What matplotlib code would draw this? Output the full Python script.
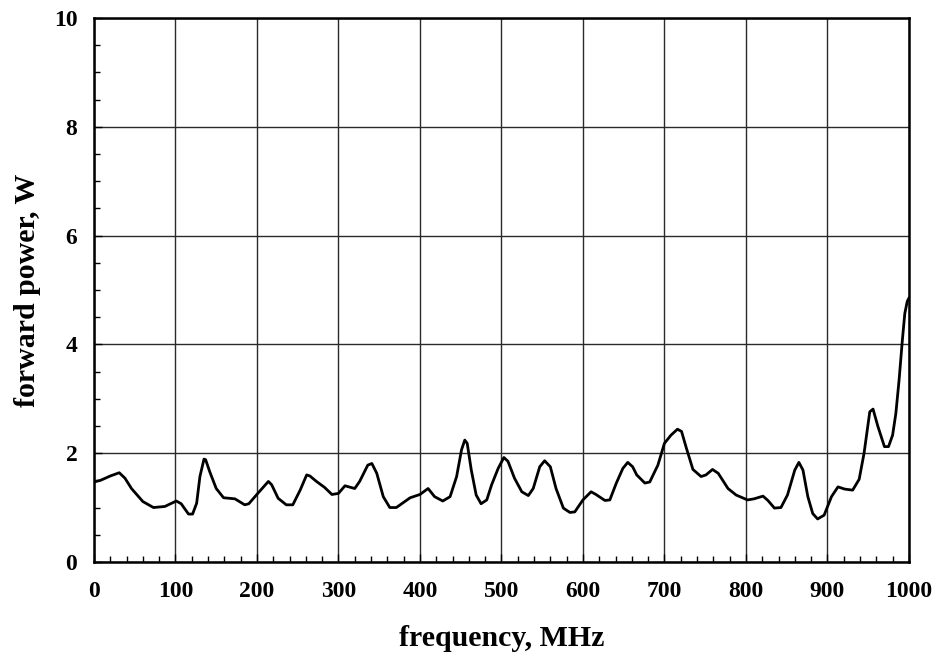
import numpy as np
import matplotlib as mpl
mpl.use("Agg")
from matplotlib import pyplot as plt
from matplotlib.ticker import MultipleLocator

mpl.rcParams.update({
    "font.family": "serif",
    "font.serif": ["Liberation Serif", "DejaVu Serif"],
    "font.weight": "bold",
})

# frequency (MHz) and forward power (W)
freq = [0, 8, 20, 31, 38, 46, 60, 73, 87, 101, 107, 116, 121, 126, 130, 135, 137,
        142, 150, 159, 173, 185, 190, 201, 214, 218, 226, 236, 244, 253, 261, 265,
        273, 283, 292, 300, 308, 320, 326, 336, 341, 347, 355, 363, 371, 388, 400,
        410, 418, 428, 437, 445, 451, 455, 458, 463, 469, 475, 482, 488, 496, 503,
        508, 516, 525, 533, 539, 547, 553, 560, 567, 576, 584, 590, 600, 610, 616,
        627, 633, 641, 649, 655, 661, 666, 676, 682, 692, 700, 708, 716, 721, 727,
        735, 745, 751, 759, 766, 778, 788, 802, 810, 821, 827, 835, 843, 851, 860,
        865, 870, 876, 882, 888, 896, 905, 913, 921, 931, 939, 945, 952, 956, 962,
        970, 975, 980, 984, 988, 992, 995, 998, 1000]
power = [1.47, 1.50, 1.58, 1.64, 1.54, 1.35, 1.11, 1.00, 1.02, 1.12, 1.07, 0.88, 0.88,
         1.08, 1.57, 1.89, 1.88, 1.66, 1.35, 1.18, 1.16, 1.05, 1.07, 1.26, 1.48, 1.42,
         1.17, 1.05, 1.05, 1.32, 1.60, 1.58, 1.48, 1.37, 1.24, 1.26, 1.40, 1.35, 1.48,
         1.78, 1.81, 1.63, 1.20, 1.00, 1.00, 1.18, 1.24, 1.35, 1.20, 1.12, 1.20, 1.57,
         2.06, 2.24, 2.18, 1.69, 1.23, 1.07, 1.14, 1.42, 1.72, 1.92, 1.85, 1.54, 1.29,
         1.22, 1.35, 1.75, 1.86, 1.75, 1.35, 0.99, 0.91, 0.92, 1.14, 1.29, 1.24, 1.13,
         1.14, 1.45, 1.72, 1.83, 1.75, 1.60, 1.45, 1.47, 1.78, 2.18, 2.33, 2.44, 2.40,
         2.09, 1.70, 1.57, 1.60, 1.70, 1.63, 1.35, 1.23, 1.14, 1.16, 1.21, 1.13, 0.99,
         1.00, 1.23, 1.69, 1.83, 1.69, 1.20, 0.89, 0.79, 0.86, 1.20, 1.38, 1.34, 1.32,
         1.52, 2.00, 2.76, 2.81, 2.49, 2.12, 2.12, 2.33, 2.73, 3.35, 4.08, 4.57, 4.79,
         4.85]

fig = plt.figure(figsize=(9.37, 6.58), dpi=100)
ax = fig.add_axes([0.1003, 0.146, 0.8697, 0.8266])
ax.plot(freq, power, 'k-', linewidth=2.0)

ax.set_xlim(0, 1000)
ax.set_ylim(0, 10)
ax.xaxis.set_major_locator(MultipleLocator(100))
ax.xaxis.set_minor_locator(MultipleLocator(20))
ax.yaxis.set_major_locator(MultipleLocator(2))
ax.yaxis.set_minor_locator(MultipleLocator(0.5))
ax.grid(True, which="major", color="#2a2a2a", linewidth=1.0)
ax.tick_params(which="both", direction="in", top=False, right=False, labelsize=17)
ax.tick_params(axis="x", pad=14)
ax.tick_params(axis="y", pad=12)
ax.tick_params(which="major", length=6, width=1)
ax.tick_params(which="minor", length=4.5, width=1)
for s in ax.spines.values():
    s.set_linewidth(1.8)
for lab in ax.get_xticklabels() + ax.get_yticklabels():
    lab.set_fontweight("bold")

ax.set_xlabel("frequency, MHz", fontsize=21.5, fontweight="bold", labelpad=16)
ax.set_ylabel("forward power, W", fontsize=21.5, fontweight="bold", labelpad=9)

fig.savefig("out.png", dpi=100)
